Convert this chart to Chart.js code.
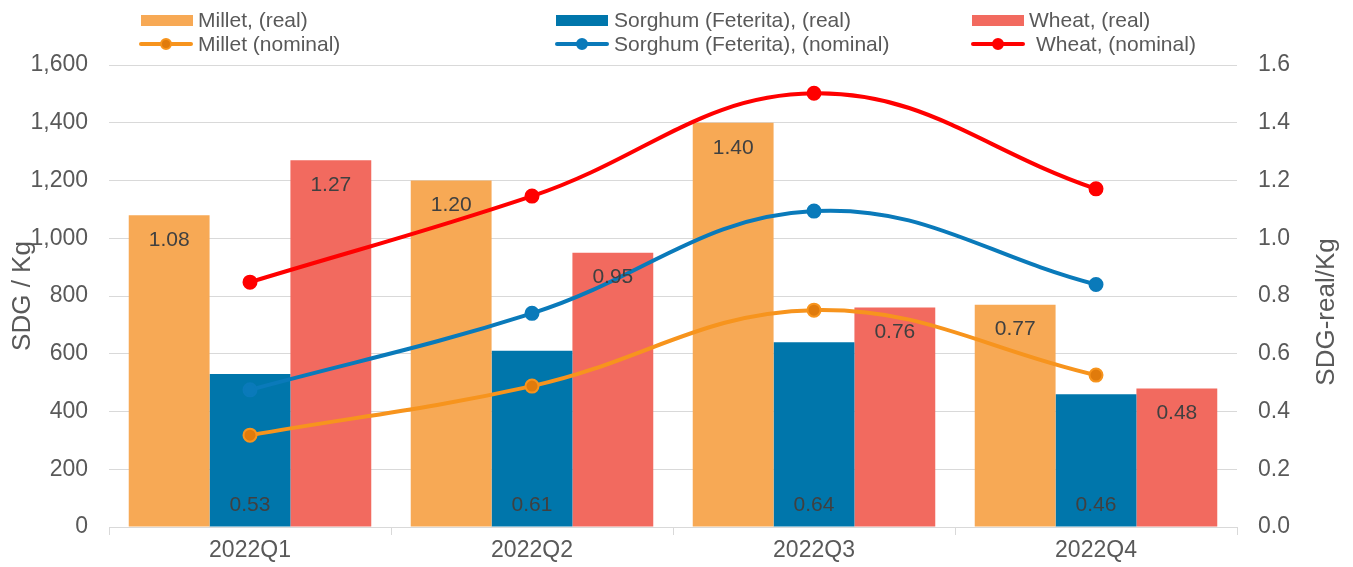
<!DOCTYPE html>
<html>
<head>
<meta charset="utf-8">
<script src="https://cdn.jsdelivr.net/npm/chart.js@4"></script>
<style>
    body { margin: 0; background: #fff; }
    #wrap { position: relative; width: 1353px; height: 567px; font-family: "Liberation Sans", Arial, sans-serif; }
    .lg-item { position: absolute; height: 24px; color: #595959; font-size: 21px; line-height: 24px; white-space: nowrap; }
    .lg-box { position: absolute; top: 7px; width: 52px; height: 11px; }
    .lg-line { position: absolute; top: 10px; width: 54px; height: 4px; border-radius: 2px; }
    .lg-dot { position: absolute; top: 6px; width: 12px; height: 12px; border-radius: 50%; box-sizing: border-box; }
    .lg-text { position: absolute; top: 0; }
</style>
</head>
<body>
<div id="wrap">
    <canvas id="chart" width="1353" height="567"></canvas>
    <div id="legend"></div>
</div>
<script>
// Data
const categories = ['2022Q1', '2022Q2', '2022Q3', '2022Q4'];
const milletReal = [1.08, 1.20, 1.40, 0.77];
const sorghumReal = [0.53, 0.61, 0.64, 0.46];
const wheatReal = [1.27, 0.95, 0.76, 0.48];
const milletNominal = [318, 488, 751, 526];
const sorghumNominal = [475, 740, 1094, 840];
const wheatNominal = [848, 1146, 1502, 1171];
const leftTicks = [0, 200, 400, 600, 800, 1000, 1200, 1400, 1600];
const rightTicks = [0, 0.2, 0.4, 0.6, 0.8, 1.0, 1.2, 1.4, 1.6];

const FONT = '"Liberation Sans", Arial, sans-serif';
const TEXT = '#595959';
const GRID = '#D9D9D9';

const colors = {
    milletBar: '#F7A955',
    sorghumBar: '#0076AB',
    wheatBar: '#F26A5F',
    milletLine: '#F7941D',
    milletDot: '#E07B0C',
    sorghumLine: '#0A7ABA',
    wheatLine: '#FF0000'
};

// Legend (3 columns x 2 rows)
const legendItems = [
    { label: 'Millet, (real)', type: 'bar', color: colors.milletBar, x: 141, y: 8, tx: 198 },
    { label: 'Sorghum (Feterita), (real)', type: 'bar', color: colors.sorghumBar, x: 556, y: 8, tx: 614 },
    { label: 'Wheat, (real)', type: 'bar', color: colors.wheatBar, x: 972, y: 8, tx: 1029 },
    { label: 'Millet (nominal)', type: 'line', color: colors.milletLine, dot: colors.milletDot, x: 139, y: 32, tx: 198 },
    { label: 'Sorghum (Feterita), (nominal)', type: 'line', color: colors.sorghumLine, dot: colors.sorghumLine, x: 555, y: 32, tx: 614 },
    { label: 'Wheat, (nominal)', type: 'line', color: colors.wheatLine, dot: colors.wheatLine, x: 971, y: 32, tx: 1036 }
];

const legendEl = document.getElementById('legend');
legendItems.forEach(item => {
    const div = document.createElement('div');
    div.className = 'lg-item';
    div.style.left = '0px';
    div.style.top = item.y + 'px';
    if (item.type === 'bar') {
        div.innerHTML = `<span class="lg-box" style="left:${item.x}px;background:${item.color}"></span>`;
    } else {
        div.innerHTML = `<span class="lg-line" style="left:${item.x}px;background:${item.color}"></span>
            <span class="lg-dot" style="left:${item.x + 21}px;background:${item.dot};border:2px solid ${item.color}"></span>`;
    }
    div.innerHTML += `<span class="lg-text" style="left:${item.tx}px">${item.label}</span>`;
    legendEl.appendChild(div);
});

// Value labels + axis titles
const labelPlugin = {
    id: 'valueLabels',
    afterDatasetsDraw(chart) {
        const ctx = chart.ctx;
        ctx.save();
        ctx.font = '21px ' + FONT;
        ctx.fillStyle = '#404040';
        ctx.textAlign = 'center';
        ctx.textBaseline = 'middle';
        chart.data.datasets.forEach((ds, i) => {
            if (ds.type !== 'bar') return;
            const meta = chart.getDatasetMeta(i);
            meta.data.forEach((bar, j) => {
                const y = ds.labelPos === 'base' ? bar.base - 21 : bar.y + 25;
                ctx.fillText(ds.data[j].toFixed(2), bar.x, y);
            });
        });
        ctx.restore();
    },
    afterDraw(chart) {
        const ctx = chart.ctx;
        ctx.save();
        ctx.font = '26px ' + FONT;
        ctx.fillStyle = TEXT;
        ctx.textAlign = 'center';
        ctx.textBaseline = 'middle';
        ctx.translate(23, 296);
        ctx.rotate(-Math.PI / 2);
        ctx.fillText('SDG / Kg', 0, 0);
        ctx.restore();
        ctx.save();
        ctx.font = '26px ' + FONT;
        ctx.fillStyle = TEXT;
        ctx.textAlign = 'center';
        ctx.textBaseline = 'middle';
        ctx.translate(1327, 312);
        ctx.rotate(-Math.PI / 2);
        ctx.fillText('SDG-real/Kg', 0, 0);
        ctx.restore();
    }
};

function barSet(label, data, color, labelPos) {
    return {
        type: 'bar',
        label: label,
        data: data,
        backgroundColor: color,
        yAxisID: 'y1',
        categoryPercentage: 0.86,
        barPercentage: 1.0,
        labelPos: labelPos,
        order: 2
    };
}

function lineSet(label, data, color, dot) {
    return {
        type: 'line',
        label: label,
        data: data,
        borderColor: color,
        backgroundColor: dot,
        pointBackgroundColor: dot,
        pointBorderColor: color,
        pointBorderWidth: 2,
        pointRadius: 6.5,
        borderWidth: 4,
        tension: 0.4,
        fill: false,
        yAxisID: 'y',
        order: 1
    };
}

new Chart(document.getElementById('chart'), {
    data: {
        labels: categories,
        datasets: [
            barSet('Millet, (real)', milletReal, colors.milletBar, 'end'),
            barSet('Sorghum (Feterita), (real)', sorghumReal, colors.sorghumBar, 'base'),
            barSet('Wheat, (real)', wheatReal, colors.wheatBar, 'end'),
            lineSet('Millet (nominal)', milletNominal, colors.milletLine, colors.milletDot),
            lineSet('Sorghum (Feterita), (nominal)', sorghumNominal, colors.sorghumLine, colors.sorghumLine),
            lineSet('Wheat, (nominal)', wheatNominal, colors.wheatLine, colors.wheatLine)
        ]
    },
    options: {
        responsive: false,
        animation: false,
        layout: { padding: { top: 65, left: 0, right: 0, bottom: 0 } },
        plugins: {
            legend: { display: false },
            tooltip: { enabled: false }
        },
        scales: {
            x: {
                offset: true,
                grid: { offset: true, drawOnChartArea: false, drawTicks: true, tickLength: 8, color: GRID },
                border: { color: GRID, width: 1 },
                ticks: { color: TEXT, font: { family: FONT, size: 23 }, padding: 2 },
                afterFit: s => { s.height = 40; }
            },
            y: {
                position: 'left',
                min: 0,
                max: 1600,
                afterBuildTicks: s => { s.ticks = leftTicks.map(v => ({ value: v })); },
                ticks: {
                    color: TEXT,
                    font: { family: FONT, size: 23 },
                    padding: 21,
                    callback: v => v.toLocaleString('en-US')
                },
                grid: { color: GRID, drawTicks: false },
                border: { display: false },
                afterFit: s => { s.width = 109; }
            },
            y1: {
                position: 'right',
                min: 0,
                max: 1.6,
                afterBuildTicks: s => { s.ticks = rightTicks.map(v => ({ value: v })); },
                ticks: {
                    color: TEXT,
                    font: { family: FONT, size: 23 },
                    padding: 21,
                    callback: v => v.toFixed(1)
                },
                grid: { drawOnChartArea: false, drawTicks: false },
                border: { display: false },
                afterFit: s => { s.width = 116; }
            }
        }
    },
    plugins: [labelPlugin]
});
</script>
</body>
</html>
